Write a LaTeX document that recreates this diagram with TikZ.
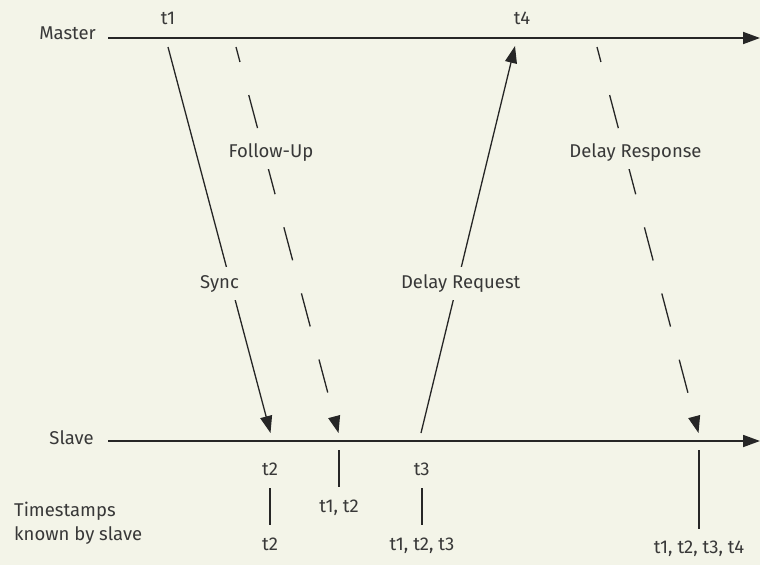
\documentclass[tikz,border=0pt]{standalone}
\usepackage{fontspec}
\setmainfont{Fira Sans}
\usetikzlibrary{arrows.meta}
\definecolor{bg}{HTML}{F3F4E8}
\definecolor{ink}{HTML}{262626}
\definecolor{txt}{HTML}{383838}
\begin{document}
\begin{tikzpicture}[x=1pt,y=-1pt,
  lbl/.style={text=txt,font=\fontsize{18.5}{23.5}\selectfont,inner sep=0pt},
  msglbl/.style={lbl,fill=bg,inner xsep=3pt,inner ysep=7.5pt,text height=14pt,text depth=4.5pt,anchor=base},
  axisline/.style={draw=ink,line width=1.8pt,-{Triangle[length=17pt,width=12pt]}},
  msg/.style={draw=ink,line width=1.3pt,-{Triangle[length=17pt,width=12pt]}},
  dmsg/.style={msg,dash pattern=on 34.2pt off 34.2pt,dash phase=18.7pt},
  tickline/.style={draw=ink,line width=1.3pt}]
\fill[bg] (0,0) rectangle (760,565);
\useasboundingbox (0,0) rectangle (760,565);

% axes
\node[lbl,anchor=base east] (master) at (96,39.5) {Master};
\node[lbl,anchor=base east] (slave) at (94,444) {Slave};
\coordinate (m0) at (108,38);
\coordinate (m1) at (760,38);
\coordinate (s0) at (108,441);
\coordinate (s1) at (760,441);
\draw[axisline] (m0) -- (m1);
\draw[axisline] (s0) -- (s1);

% message end points
\coordinate (syncA) at (168,47);
\coordinate (syncB) at (270.5,433);
\coordinate (fuA) at (236,47);
\coordinate (fuB) at (338.5,433);
\coordinate (drqA) at (421,433);
\coordinate (drqB) at (515,46);
\coordinate (drsA) at (597,47);
\coordinate (drsB) at (698.5,433);

\draw[msg] (syncA) -- (syncB);
\draw[dmsg] (fuA) -- (fuB);
\draw[msg] (drqA) -- (drqB);
\draw[dmsg] (drsA) -- (drsB);

% message labels
\node[msglbl] (sync) at (219.5,288.3) {Sync};
\node[msglbl] (fu) at (271,157.3) {Follow-Up};
\node[msglbl] (drq) at (460.7,288.3) {Delay Request};
\node[msglbl] (drs) at (635.5,157.3) {Delay Response};

% timestamps on master
\node[lbl,anchor=base] (t1) at (168,24) {t1};
\node[lbl,anchor=base] (t4) at (522,24) {t4};

% timestamps on slave
\node[lbl,anchor=base] (t2) at (270,475) {t2};
\node[lbl,anchor=base] (t3) at (421.7,475) {t3};

% known timestamps
\node[lbl,anchor=base] (k1) at (270,550.7) {t2};
\node[lbl,anchor=base] (k2) at (339,512.7) {t1, t2};
\node[lbl,anchor=base] (k3) at (422,550.7) {t1, t2, t3};
\node[lbl,anchor=base] (k4) at (699,553) {t1, t2, t3, t4};
\node[lbl,anchor=base west,align=left] (known) at (14,540) {Timestamps\\known by slave};

% tick lines
\coordinate (a1) at (270,488); \coordinate (b1) at (270,525);
\coordinate (a2) at (339,450); \coordinate (b2) at (339,487);
\coordinate (a3) at (422,488); \coordinate (b3) at (422,525);
\coordinate (a4) at (699,450); \coordinate (b4) at (699,529);
\draw[tickline] (a1) -- (b1);
\draw[tickline] (a2) -- (b2);
\draw[tickline] (a3) -- (b3);
\draw[tickline] (a4) -- (b4);
\end{tikzpicture}
\end{document}
